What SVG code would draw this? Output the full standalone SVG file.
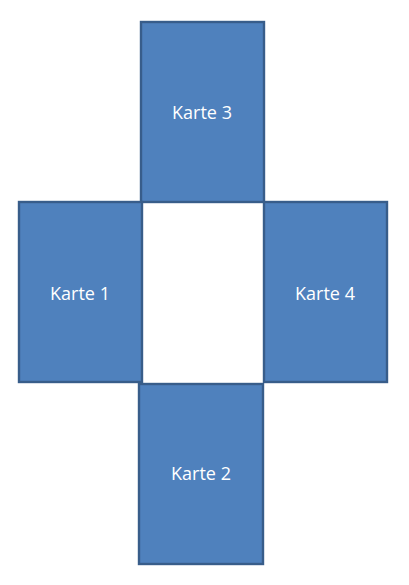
<svg xmlns="http://www.w3.org/2000/svg" width="409" height="585" viewBox="0 0 409 585">
<style>
.card{fill:#4f81bd;stroke:#385d8a;stroke-width:2.4}
.lbl{font-family:"Open Sans","Liberation Sans",Arial,sans-serif;font-size:18px;fill:#ffffff;text-anchor:middle}
</style>
<rect width="409" height="585" fill="#ffffff"/>
<g id="karte3"><rect class="card" x="141" y="22" width="123" height="180"/><text class="lbl" x="202" y="119">Karte 3</text></g>
<g id="karte1"><rect class="card" x="19" y="202" width="123" height="180"/><text class="lbl" x="80" y="300">Karte 1</text></g>
<g id="karte4"><rect class="card" x="264" y="202" width="123" height="180"/><text class="lbl" x="325" y="300">Karte 4</text></g>
<g id="karte2"><rect class="card" x="139" y="384" width="124" height="180"/><text class="lbl" x="201" y="480">Karte 2</text></g>
<g id="connectors"></g>
</svg>
